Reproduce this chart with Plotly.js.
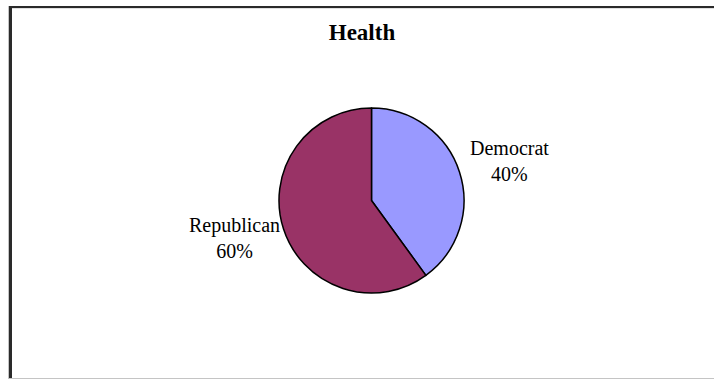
<!DOCTYPE html>
<html>
<head>
<meta charset="utf-8">
<script src="https://cdn.plot.ly/plotly-3.0.1.min.js"></script>
<style>
  html, body { margin: 0; padding: 0; background: #fff; }
  #chart { width: 714px; height: 379px; }
</style>
</head>
<body>
<div id="chart"></div>
<script>
const chartTitle = "Health";
const parties = ["Democrat", "Republican"];
const shares = [40, 60];
const sliceColors = ["#9999FF", "#993366"];

const W = 714, H = 379;
const px = v => v / W;
const py = v => 1 - v / H;
const serif = "Liberation Serif, Times New Roman, serif";

const trace = {
  type: "pie",
  labels: parties,
  values: shares,
  sort: false,
  direction: "clockwise",
  rotation: 0,
  marker: { colors: sliceColors, line: { color: "#000000", width: 1.5 } },
  textinfo: "none",
  domain: { x: [px(279), px(464)], y: [py(293), py(108)] },
  hoverinfo: "label+percent",
  showlegend: false
};

// label block placement (layout only): [centerX, centerY] per slice
const labelPos = [[509, 161], [234, 238]];
const total = shares.reduce((a, b) => a + b, 0);
const annotations = parties.map((name, i) => ({
  xref: "paper", yref: "paper",
  x: px(labelPos[i][0]), y: py(labelPos[i][1]),
  xanchor: "center", yanchor: "middle", align: "center",
  text: name + "<br>" + Math.round(shares[i] / total * 100) + "%",
  showarrow: false,
  font: { family: serif, size: 20, color: "#000" }
}));

const frameDark = "#2a2a2a", frameLight = "#c4c4c4";
const shapes = [
  { type: "rect", xref: "paper", yref: "paper", x0: px(8), x1: px(9), y0: 0, y1: py(6), fillcolor: frameLight, line: { width: 0 } },
  { type: "rect", xref: "paper", yref: "paper", x0: px(9), x1: px(12), y0: 0, y1: py(6), fillcolor: frameDark, line: { width: 0 } },
  { type: "rect", xref: "paper", yref: "paper", x0: px(9), x1: 1, y0: py(8), y1: py(6), fillcolor: frameDark, line: { width: 0 } },
  { type: "rect", xref: "paper", yref: "paper", x0: px(12), x1: 1, y0: py(9), y1: py(8), fillcolor: "#e0e0e0", line: { width: 0 } },
  { type: "rect", xref: "paper", yref: "paper", x0: px(9), x1: 1, y0: 0, y1: py(378), fillcolor: frameLight, line: { width: 0 } }
];

const layout = {
  width: W, height: H,
  margin: { l: 0, r: 0, t: 0, b: 0 },
  paper_bgcolor: "#ffffff",
  plot_bgcolor: "#ffffff",
  title: {
    text: "<b>" + chartTitle + "</b>",
    font: { family: serif, size: 23, color: "#000" },
    x: px(362), xanchor: "center", xref: "paper",
    y: py(32), yanchor: "middle", yref: "container"
  },
  annotations: annotations,
  shapes: shapes,
  showlegend: false
};

Plotly.newPlot("chart", [trace], layout, { displayModeBar: false, staticPlot: true });
</script>
</body>
</html>
